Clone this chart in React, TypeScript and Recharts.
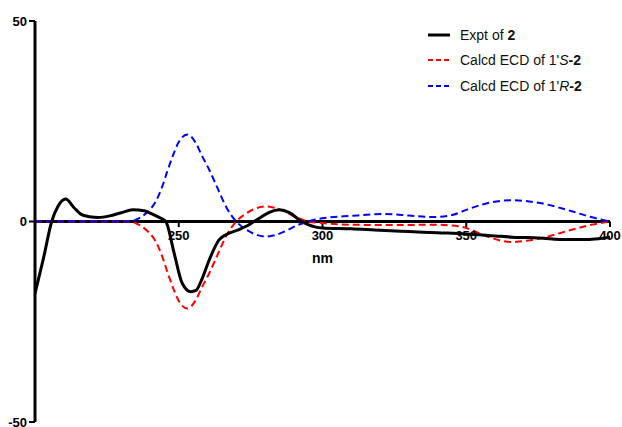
import React from 'react';
import { LineChart, Line, XAxis, YAxis, ReferenceLine, ReferenceDot, Legend } from 'recharts';

const FONT = '"Liberation Sans", Arial, Helvetica, sans-serif';

// Experimental ECD of 2
const exptNm = [200, 203, 205.8, 208, 210.7, 213.5, 215.9, 219, 222, 226, 230, 234, 238, 240, 243, 245.5, 248.4, 251.2, 254.2, 256, 258, 260.6, 264, 266.4, 271, 274, 278, 281.5, 285, 288.5, 292, 295, 297.7, 300, 310, 320, 330, 340, 350, 360, 366, 375, 385, 392, 396, 400];
const exptVal = [-18, -9, 0, 3.8, 5.6, 3.5, 1.85, 1.2, 1.0, 1.4, 2.2, 2.9, 2.7, 2.1, 1.1, 0, -7.9, -15.4, -17.5, -17.2, -14.5, -9.6, -4.6, -3.3, -2, -1.0, 0.8, 2.3, 2.9, 2.2, 0.4, -0.8, -1.4, -1.6, -1.8, -2.2, -2.5, -2.8, -3.1, -3.6, -3.9, -4.1, -4.5, -4.5, -4.3, -3.9];

// Calcd ECD of 1'S-2
const calcSNm = [200, 220, 233, 235.5, 239, 242, 244.3, 246, 248, 250, 253, 256, 258, 260.6, 264, 266.4, 270, 273, 277, 280.5, 284, 288, 291, 295, 300, 310, 325, 338, 345, 350, 357, 366, 375.6, 387, 393, 400];
const calcSVal = [0, 0, 0, -0.6, -2.3, -5, -8.8, -12.5, -16.5, -19.8, -21.7, -19.5, -16.5, -12.9, -7.5, -3.75, 0, 1.8, 3.3, 3.75, 3.3, 2.1, 1.0, 0, -0.4, -0.8, -0.9, -0.8, -1.0, -1.6, -3.7, -5.1, -4.2, -2, -0.9, 0];

// Calcd ECD of 1'R-2
const calcRNm = [200, 220, 233, 235.5, 239, 242, 244.3, 246, 248, 250, 253, 256, 258, 260.6, 264, 266.4, 270, 273, 277, 280.5, 284, 288, 291, 295, 300, 310, 321, 330, 338, 345, 350, 357, 366, 375.6, 387, 393, 400];
const calcRVal = [0, 0, 0, 0.6, 2.3, 5, 8.8, 12.5, 16.5, 19.8, 21.7, 19.5, 16.5, 12.9, 7.5, 3.75, 0, -1.8, -3.3, -3.75, -3.3, -2.1, -1.0, 0, 0.8, 1.4, 1.85, 1.5, 1.1, 1.6, 2.9, 4.5, 5.3, 4.6, 2.5, 1.2, 0];

const xTicks = [250, 300, 350, 400];
const yTicks = [-50, 0, 50];
const xDomain = [200, 400];
const yDomain = [-50, 50];
const xUnit = 'nm';

const toData = (xs: number[], ys: number[]) => xs.map((x, i) => ({ x, y: ys[i] }));
const exptData = toData(exptNm, exptVal);
const calcSData = toData(calcSNm, calcSVal);
const calcRData = toData(calcRNm, calcRVal);

const legendItems = [
  { key: 'expt', color: '#000000', width: 3, dash: undefined as string | undefined, content: <span>Expt of <b>2</b></span> },
  { key: 's', color: '#ff0000', width: 2, dash: '5 3', content: <span>Calcd ECD of 1'<i>S</i><b>-2</b></span> },
  { key: 'r', color: '#0000ff', width: 2, dash: '5 3', content: <span>Calcd ECD of 1'<i>R</i><b>-2</b></span> },
];

const renderLegend = () => (
  <div style={{ fontFamily: FONT, fontSize: 14, color: '#111' }}>
    {legendItems.map((it) => (
      <div key={it.key} style={{ display: 'flex', alignItems: 'center', height: 25.5, whiteSpace: 'nowrap' }}>
        <svg width={32} height={10} style={{ display: 'block' }}>
          <line x1={0} y1={5} x2={22} y2={5} stroke={it.color} strokeWidth={it.width} strokeDasharray={it.dash} />
        </svg>
        {it.content}
      </div>
    ))}
  </div>
);

export default function App() {
  return (
    <div style={{ position: 'absolute', left: 0, top: 0, background: '#fff' }}>
      <LineChart width={622} height={427} margin={{ top: 21, right: 12, bottom: 5, left: 0 }}>
        <XAxis type="number" dataKey="x" domain={xDomain} hide allowDataOverflow />
        <YAxis
          type="number"
          domain={yDomain}
          ticks={yTicks}
          interval={0}
          width={35}
          axisLine={{ stroke: '#000', strokeWidth: 3 }}
          tickLine={{ stroke: '#000', strokeWidth: 2 }}
          tickSize={6}
          tickMargin={2}
          tick={{ fill: '#000', fontSize: 13, fontWeight: 'bold', fontFamily: FONT }}
        />
        <ReferenceLine y={0} stroke="#000" strokeWidth={3} />
        {xTicks.map((t) => (
          <ReferenceLine
            key={t}
            segment={[{ x: t, y: 0 }, { x: t, y: -1.4 }]}
            stroke="#000"
            strokeWidth={2}
            label={{ value: String(t), position: 'bottom', offset: 4, fill: '#000', fontSize: 13, fontWeight: 'bold', fontFamily: FONT }}
          />
        ))}
        <ReferenceDot
          x={300}
          y={0}
          r={0}
          fill="none"
          stroke="none"
          label={{ value: xUnit, position: 'bottom', offset: 32, fill: '#000', fontSize: 14, fontWeight: 'bold', fontFamily: FONT }}
        />
        <Line data={calcSData} dataKey="y" type="monotone" stroke="#ff0000" strokeWidth={2} strokeDasharray="7 4" dot={false} isAnimationActive={false} />
        <Line data={calcRData} dataKey="y" type="monotone" stroke="#0000ff" strokeWidth={2} strokeDasharray="7 4" dot={false} isAnimationActive={false} />
        <Line data={exptData} dataKey="y" type="monotone" stroke="#000" strokeWidth={3} dot={false} isAnimationActive={false} />
        <Legend
          layout="vertical"
          align="center"
          verticalAlign="middle"
          wrapperStyle={{ top: 22, left: 428, width: 190 }}
          content={renderLegend}
        />
      </LineChart>
    </div>
  );
}
